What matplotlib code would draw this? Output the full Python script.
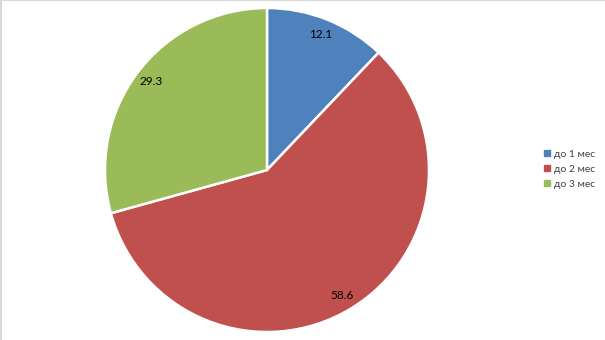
import matplotlib
matplotlib.use("Agg")
import matplotlib.pyplot as plt
from matplotlib.lines import Line2D

categories = ["до 1 мес", "до 2 мес", "до 3 мес"]
values = [12.1, 58.6, 29.3]
colors = ["#4F81BD", "#C0504D", "#9BBB59"]

plt.rcParams['font.family'] = ['Lato', 'DejaVu Sans']

W, H = 605, 340
fig = plt.figure(figsize=(W / 100, H / 100), dpi=100)
cx, cy, r = 267, 170, 162
ax = fig.add_axes([(cx - r) / W, (H - cy - r) / H, 2 * r / W, 2 * r / H])

wedges, texts, autotexts = ax.pie(
    values, colors=colors, startangle=90, counterclock=False,
    autopct=lambda p: f"{p:.1f}", pctdistance=0.9,
    wedgeprops=dict(edgecolor="white", linewidth=1.8),
    textprops=dict(fontsize=8.5, color="black"))
ax.set_xlim(-1, 1)
ax.set_ylim(-1, 1)
ax.set_aspect("equal")
ax.axis("off")

handles = [Line2D([], [], marker="s", linestyle="none", markersize=5,
                  markerfacecolor=c, markeredgecolor=c) for c in colors]
fig.legend(handles, categories, loc="center left",
           bbox_to_anchor=(533 / W, 1 - 169 / H), frameon=False,
           fontsize=7.5, handlelength=0.8, handletextpad=0.3,
           labelspacing=0.55, labelcolor="#404040")

# light border on top and left
fig.add_artist(Line2D([0, 1], [0.999, 0.999], transform=fig.transFigure,
                      color="#d9d9d9", linewidth=1.5))
fig.add_artist(Line2D([0.001, 0.001], [0, 1], transform=fig.transFigure,
                      color="#d9d9d9", linewidth=1.5))

fig.savefig("out.png", dpi=100)
